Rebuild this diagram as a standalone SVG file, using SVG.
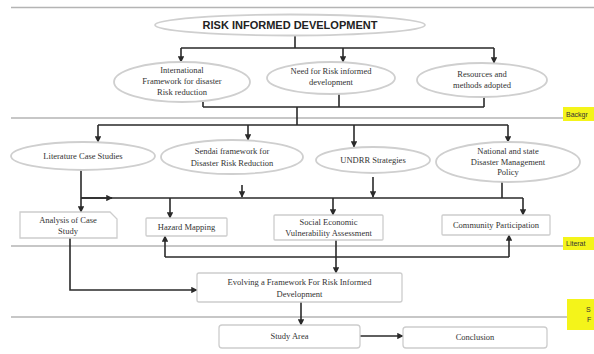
<svg xmlns="http://www.w3.org/2000/svg" width="594" height="354" viewBox="0 0 594 354">
<style>
.sep{stroke:#b4b4b4;stroke-width:1.5;fill:none}
.ell{fill:#fff;stroke:#cfcfcf;stroke-width:1.8}
.box{fill:#fff;stroke:#cdcdcd;stroke-width:1.3}
.t{font-family:"Liberation Serif","Times New Roman",serif;font-size:8.5px;fill:#333;text-anchor:middle}
.title{font-family:"Liberation Sans",Arial,sans-serif;font-size:11px;font-weight:bold;fill:#222;text-anchor:middle}
.lab{font-family:"Liberation Sans",Arial,sans-serif;font-size:7px;fill:#333}
.c{stroke:#2a2a2a;stroke-width:1.6;fill:none}
.ca{stroke:#2a2a2a;stroke-width:1.6;fill:none;marker-end:url(#ah)}
.yl{fill:#f4f41a}
</style>
<defs>
<marker id="ah" viewBox="0 0 10 10" refX="9" refY="5" markerWidth="4" markerHeight="4" orient="auto">
<path d="M0,0 L10,5 L0,10 z" fill="#2a2a2a"/>
</marker>
</defs>
<rect width="594" height="354" fill="#fff"/>
<g id="separators">
<line class="sep" x1="11" y1="7.5" x2="594" y2="7.5"/>
<line class="sep" x1="11" y1="118" x2="563" y2="118"/>
<line class="sep" x1="11" y1="246" x2="563" y2="246"/>
<line class="sep" x1="11" y1="317" x2="567" y2="317"/>
</g>
<g id="section-labels">
<rect class="yl" x="563" y="107" width="31" height="14"/>
<text class="lab" x="566" y="117">Backgr</text>
<rect class="yl" x="563" y="237" width="31" height="13"/>
<text class="lab" x="566" y="246">Literat</text>
<rect class="yl" x="567" y="299" width="27" height="31"/>
<text class="lab" x="586" y="312">S</text>
<text class="lab" x="587" y="322">F</text>
</g>
<g id="connectors">
<path class="c" d="M295,35 V48 M181,48 H494"/>
<path class="ca" d="M181,48 V62"/>
<path class="ca" d="M343,48 V62"/>
<path class="ca" d="M494,48 V63"/>
<path class="c" d="M203,102 V107 M339,94 V107 M484,97 V107 M203,107 H484 M297,107 V125 M98,125 H508"/>
<path class="ca" d="M98,125 V142"/>
<path class="ca" d="M248,125 V140"/>
<path class="ca" d="M354,125 V147"/>
<path class="ca" d="M508,125 V142"/>
<path class="ca" d="M81,170 V212"/>
<path class="c" d="M81,198 H523"/>
<path class="ca" d="M81,198 H112"/>
<path class="ca" d="M242,185 V197"/>
<path class="ca" d="M373,177 V197"/>
<path class="c" d="M502,182 V198"/>
<path class="ca" d="M170,198 V218"/>
<path class="ca" d="M333,198 V215"/>
<path class="ca" d="M523,198 V215"/>
<path class="ca" d="M70,238 V290 H197"/>
<path class="ca" d="M165,257 V236"/>
<path class="c" d="M165,257 H509"/>
<path class="ca" d="M509,257 V235"/>
<path class="ca" d="M336,240 V273"/>
<path class="ca" d="M301,302 V325"/>
<path class="ca" d="M360,336 H403"/>
</g>
<g id="n-title">
<ellipse class="ell" cx="290" cy="25" rx="135" ry="10.5"/>
<text class="title" x="290" y="29">RISK INFORMED DEVELOPMENT</text>
</g>
<g id="n-international">
<ellipse class="ell" cx="182" cy="82" rx="68" ry="20"/>
<text class="t" x="182" y="73">International</text>
<text class="t" x="182" y="84">Framework for disaster</text>
<text class="t" x="182" y="95">Risk reduction</text>
</g>
<g id="n-need">
<ellipse class="ell" cx="331" cy="78" rx="64" ry="16"/>
<text class="t" x="331" y="74">Need for Risk informed</text>
<text class="t" x="331" y="85">development</text>
</g>
<g id="n-resources">
<ellipse class="ell" cx="482" cy="80" rx="65" ry="17"/>
<text class="t" x="482" y="77">Resources and</text>
<text class="t" x="482" y="88">methods adopted</text>
</g>
<g id="n-literature">
<ellipse class="ell" cx="83" cy="156" rx="72" ry="14"/>
<text class="t" x="83" y="159">Literature Case Studies</text>
</g>
<g id="n-sendai">
<ellipse class="ell" cx="232" cy="157" rx="71" ry="17"/>
<text class="t" x="232" y="154">Sendai framework for</text>
<text class="t" x="232" y="166">Disaster Risk Reduction</text>
</g>
<g id="n-undrr">
<ellipse class="ell" cx="373" cy="160" rx="57" ry="13"/>
<text class="t" x="373" y="163">UNDRR  Strategies</text>
</g>
<g id="n-national">
<ellipse class="ell" cx="508" cy="162" rx="72" ry="20"/>
<text class="t" x="508" y="154">National and state</text>
<text class="t" x="508" y="165">Disaster Management</text>
<text class="t" x="508" y="175">Policy</text>
</g>
<g id="n-analysis">
<path class="box" d="M20,212 H110 L117,219 V238 H20 Z"/>
<text class="t" x="68" y="223">Analysis of Case</text>
<text class="t" x="68" y="234">Study</text>
</g>
<g id="n-hazard">
<rect class="box" x="146" y="218" width="81" height="18" rx="1"/>
<text class="t" x="186.5" y="230">Hazard Mapping</text>
</g>
<g id="n-social">
<rect class="box" x="274" y="215" width="109" height="25" rx="1"/>
<text class="t" x="328.5" y="225">Social Economic</text>
<text class="t" x="328.5" y="236">Vulnerability Assessment</text>
</g>
<g id="n-community">
<rect class="box" x="442" y="215" width="108" height="20" rx="1"/>
<text class="t" x="496" y="228">Community Participation</text>
</g>
<g id="n-evolving">
<rect class="box" x="197" y="273" width="205" height="29" rx="2"/>
<text class="t" x="299.5" y="285">Evolving a Framework For Risk Informed</text>
<text class="t" x="299.5" y="297">Development</text>
</g>
<g id="n-study">
<rect class="box" x="219" y="325" width="141" height="23" rx="3"/>
<text class="t" x="289.5" y="339">Study Area</text>
</g>
<g id="n-conclusion">
<rect class="box" x="403" y="327" width="144" height="21" rx="3"/>
<text class="t" x="475" y="340">Conclusion</text>
</g>
</svg>
